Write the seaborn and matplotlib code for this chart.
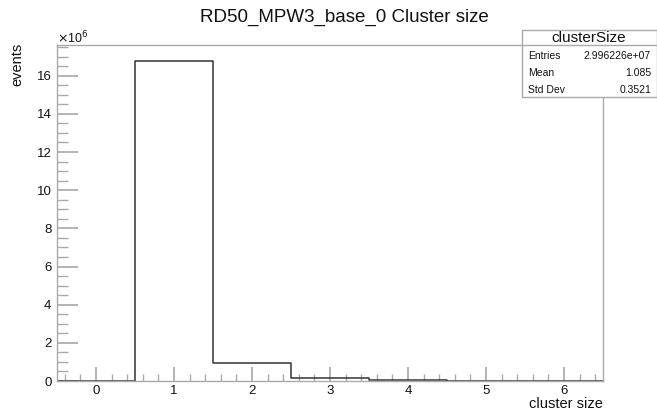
import numpy as np
import pandas as pd
import matplotlib
matplotlib.use("Agg")
import matplotlib.pyplot as plt
import seaborn as sns
from matplotlib.ticker import MultipleLocator, FuncFormatter

# ---- data ----
cluster_size = [0, 1, 2, 3, 4, 5, 6]
events = [0.0, 16.77e6, 0.95e6, 0.18e6, 0.04e6, 0.012e6, 0.008e6]
bin_edges = [-0.5, 0.5, 1.5, 2.5, 3.5, 4.5, 5.5, 6.5]
title = "RD50_MPW3_base_0 Cluster size"
stats_name = "clusterSize"
stats_rows = [("Entries", "2.996226e+07"), ("Mean", "1.085"), ("Std Dev", "0.3521")]

sns.set_theme(style="white")
plt.rcParams["font.family"] = ["Liberation Sans", "DejaVu Sans"]

df = pd.DataFrame({"cluster size": cluster_size, "events": events})

fig = plt.figure(figsize=(6.57, 4.12), dpi=100)
W, H = 657, 412
ax = fig.add_axes([57 / W, 1 - 381 / H, (603 - 57) / W, (381 - 45) / H])

sns.histplot(data=df, x="cluster size", weights="events", bins=bin_edges,
             element="step", fill=False, color="#333333", linewidth=1.1, ax=ax)

ax.set_xlim(-0.5, 6.5)
ax.set_ylim(0, max(events) * 1.05)

frame_col = "#aaaaaa"
for s in ax.spines.values():
    s.set_color(frame_col)
    s.set_linewidth(1.0)

ax.xaxis.set_major_locator(MultipleLocator(1))
ax.xaxis.set_minor_locator(MultipleLocator(0.2))
ax.yaxis.set_major_locator(MultipleLocator(2e6))
ax.yaxis.set_minor_locator(MultipleLocator(0.5e6))
ax.yaxis.set_major_formatter(FuncFormatter(lambda v, p: f"{v/1e6:.0f}"))
ax.tick_params(axis="both", which="both", direction="in", color=frame_col,
               labelsize=9.5, labelcolor="#111111", top=False, right=False,
               bottom=True, left=True)
ax.tick_params(axis="x", which="major", length=10, pad=3)
ax.tick_params(axis="x", which="minor", length=5)
ax.tick_params(axis="y", which="major", length=15, pad=4)
ax.tick_params(axis="y", which="minor", length=8)

ax.set_xlabel("")
ax.set_ylabel("")
fig.text(603 / W, 1 - 404 / H, "cluster size", ha="right", va="center",
         fontsize=10.5, color="#111111")
fig.text(17 / W, 1 - 43 / H, "events", ha="center", va="top", rotation=90,
         fontsize=10.5, color="#111111")
fig.text(57 / W, 1 - 38 / H, r"$\times$10$^{6}$", ha="left", va="center",
         fontsize=9, color="#111111")

fig.text(344 / W, 1 - 17 / H, title, ha="center", va="center",
         fontsize=13.5, color="#111111")

# stats box
bx0, bx1, by0, by1 = 521.5, 656.5, 30, 97
box = plt.Rectangle((bx0 / W, 1 - by1 / H), (bx1 - bx0) / W, (by1 - by0) / H,
                    transform=fig.transFigure, facecolor="white",
                    edgecolor="#aaaaaa", linewidth=1.0, zorder=5)
fig.add_artist(box)
fig.add_artist(plt.Line2D([bx0 / W, bx1 / W], [1 - 45 / H, 1 - 45 / H],
                          transform=fig.transFigure, color="#aaaaaa",
                          linewidth=1.0, zorder=6))
fig.text((bx0 + bx1) / 2 / W, 1 - 37.5 / H, stats_name, ha="center",
         va="center", fontsize=11, color="#111111", zorder=7)
for i, (k, v) in enumerate(stats_rows):
    yy = 1 - (56 + 17 * i) / H
    fig.text(528 / W, yy, k, ha="left", va="center", fontsize=7.5,
             color="#111111", zorder=7)
    fig.text(651 / W, yy, v, ha="right", va="center", fontsize=7.5,
             color="#111111", zorder=7)

fig.savefig("out.png", dpi=100, facecolor="white")
